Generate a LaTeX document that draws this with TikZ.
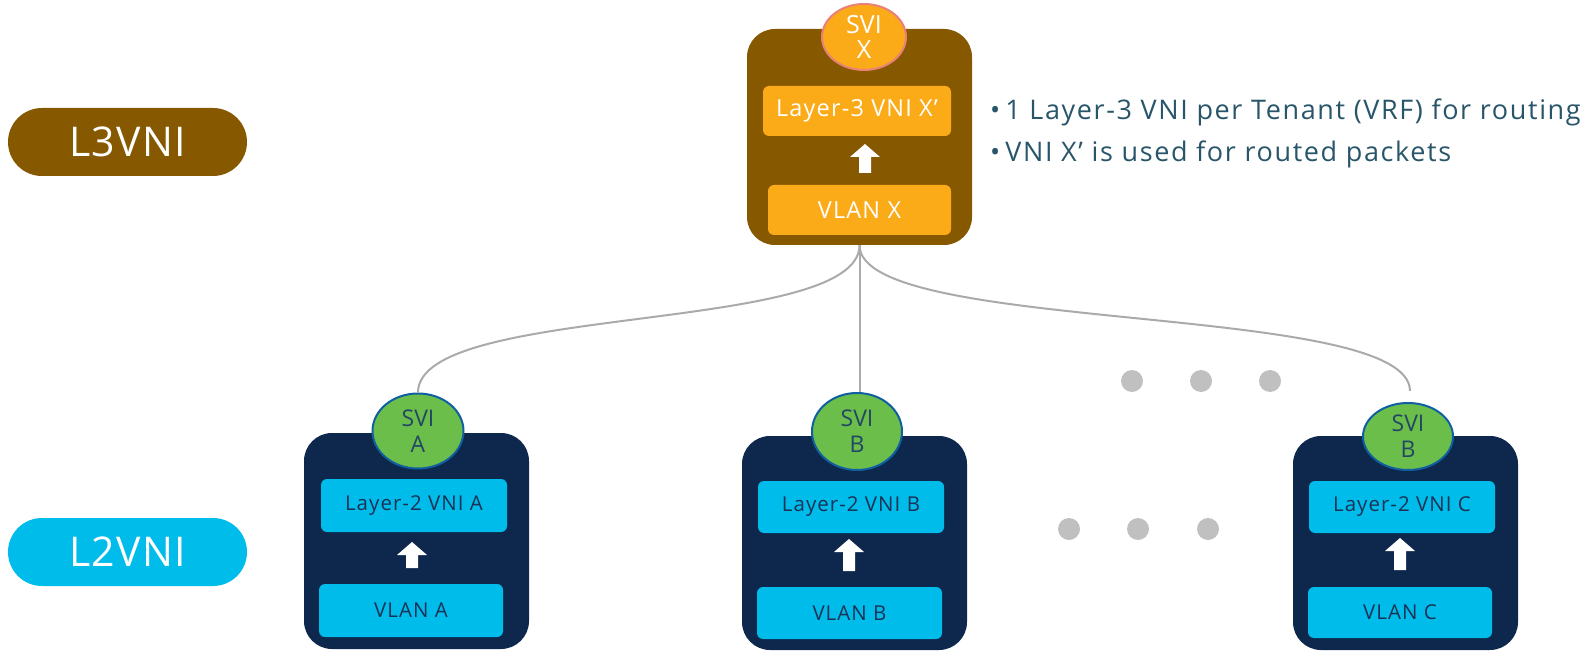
\documentclass[tikz,border=0pt]{standalone}
\usepackage{fontspec}
\setmainfont{Open Sans}
\newfontfamily\spaced[LetterSpace=5]{Open Sans}
\newfontfamily\spacedwide[LetterSpace=6]{Open Sans}
\newfontfamily\spacedpill[LetterSpace=3]{Open Sans}
\usetikzlibrary{calc,shapes.geometric}
\definecolor{brn}{RGB}{134,88,0}
\definecolor{org}{RGB}{251,171,24}
\definecolor{salmon}{RGB}{232,130,120}
\definecolor{navy}{RGB}{14,39,77}
\definecolor{cyanb}{RGB}{0,188,235}
\definecolor{grn}{RGB}{108,190,75}
\definecolor{grnb}{RGB}{16,95,160}
\definecolor{darktxt}{RGB}{25,50,85}
\definecolor{svitxt}{RGB}{35,70,100}
\definecolor{bultxt}{RGB}{40,85,105}
\definecolor{linec}{RGB}{170,170,170}
\definecolor{dotc}{RGB}{192,192,192}
\newcommand\upblk[3]{\fill[white] (#1,#2) -- (#1+15,#2+13) -- (#1+6,#2+13) -- (#1+6,#3) -- (#1-6,#3) -- (#1-6,#2+13) -- (#1-15,#2+13) -- cycle;}
\begin{document}
\begin{tikzpicture}[x=1pt,y=-1pt,
  pill/.style={rounded corners=34pt, minimum width=239pt, minimum height=68pt, inner sep=0pt, text=white, font=\spacedpill\fontsize{41}{48}\selectfont},
  bigbox/.style={rounded corners=28pt, minimum width=225pt, inner sep=0pt},
  inbox/.style={rounded corners=6pt, inner sep=0pt},
  topin/.style={inbox, fill=org, text=white, font=\spaced\fontsize{23.5}{28}\selectfont},
  botin/.style={inbox, fill=cyanb, text=darktxt, font=\spaced\fontsize{20.5}{24}\selectfont},
  svi/.style={ellipse, line width=2pt, inner sep=0pt, align=center},
  svigreen/.style={svi, fill=grn, draw=grnb, text=svitxt, font=\fontsize{23}{26}\selectfont},
  conn/.style={draw=linec, line width=2pt},
  bullet/.style={anchor=west, text=bultxt, inner sep=0pt, font=\spacedwide\fontsize{27}{30}\selectfont}
]
\useasboundingbox (0,0) rectangle (1593,652);
% legend pills
\node[pill, fill=brn] (l3pill) at (127.5,142) {L3VNI};
\node[pill, fill=cyanb] (l2pill) at (127.5,552) {L2VNI};
% top L3 box
\node[bigbox, fill=brn, minimum height=216pt] (l3box) at (859.5,137) {};
\node[topin, minimum width=188pt, minimum height=50pt] (l3vni) at (857,111) {Layer-3 VNI X’};
\node[topin, minimum width=183pt, minimum height=50pt] (vlanx) at (859.5,210) {VLAN X};
\upblk{865}{144}{173}
\node[svi, fill=org, draw=salmon, text=white, minimum width=84pt, minimum height=66pt, font=\fontsize{25}{25}\selectfont] (svix) at (864,37) {SVI\\X};
% bullets
\node[bullet] (b1) at (990,112) {•\hspace{5pt}1 Layer-3 VNI per Tenant (VRF) for routing};
\node[bullet] (b2) at (990,154) {•\hspace{5pt}VNI X’ is used for routed packets};
% box A
\node[bigbox, fill=navy, minimum height=216pt] (boxa) at (416.5,541) {};
\node[botin, minimum width=186pt, minimum height=53pt] (l2a) at (414,505.5) {Layer-2 VNI A};
\node[botin, minimum width=184pt, minimum height=53pt] (vlana) at (411,610.5) {VLAN A};
\upblk{412}{542}{568}
\node[svigreen, minimum width=91pt, minimum height=75pt] (svia) at (418,431) {SVI\\A};
% box B
\node[bigbox, fill=navy, minimum height=214pt] (boxb) at (854.5,543) {};
\node[botin, minimum width=186pt, minimum height=52pt] (l2b) at (851,507) {Layer-2 VNI B};
\node[botin, minimum width=185pt, minimum height=52pt] (vlanb) at (849.5,613) {VLAN B};
\upblk{849}{539}{571}
\node[svigreen, minimum width=90pt, minimum height=77pt] (svib) at (857,431.5) {SVI\\B};
% box C
\node[bigbox, fill=navy, minimum height=214pt] (boxc) at (1405.5,543) {};
\node[botin, minimum width=186pt, minimum height=52pt] (l2c) at (1402,507) {Layer-2 VNI C};
\node[botin, minimum width=184pt, minimum height=51pt] (vlanc) at (1400,612.5) {VLAN C};
\upblk{1400}{538}{570}
\node[svigreen, minimum width=90pt, minimum height=67pt] (svic) at (1408,436.5) {SVI\\B};
% connectors
\coordinate (cend) at ($(svic.north)+(2,-11)$);
\draw[conn] (l3box.south) .. controls +(0,90) and +(0,-90) .. (svia.north);
\draw[conn] (l3box.south) -- (l3box.south |- svib.north);
\draw[conn] (l3box.south) .. controls +(0,90) and +(0,-90) .. (cend);
% dots
\foreach \x in {1132,1201,1270} \fill[dotc] (\x,381) circle (11);
\foreach \x in {1069,1138,1208} \fill[dotc] (\x,529) circle (11);
\end{tikzpicture}
\end{document}
